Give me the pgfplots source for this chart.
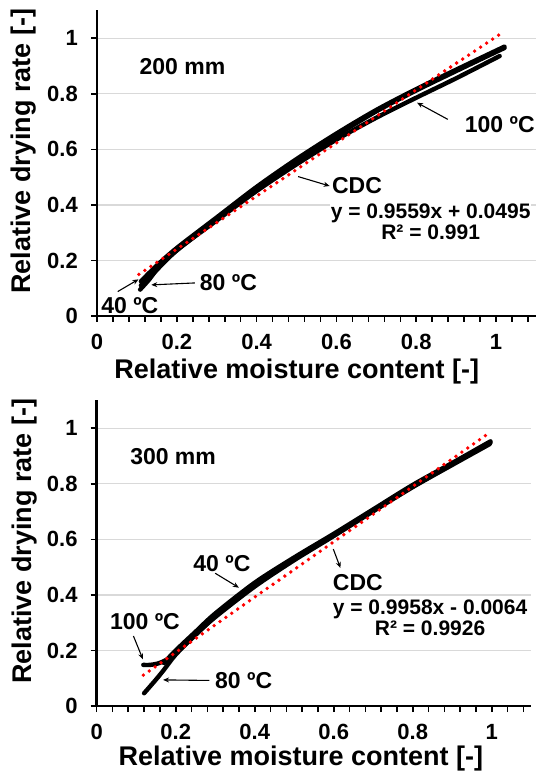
\documentclass[border=0pt]{standalone}
\usepackage{fontspec}
\setmainfont{Liberation Sans}
\usepackage{pgfplots}
\usepackage{pgfplotstable}
\pgfplotsset{compat=1.18}
\usetikzlibrary{arrows.meta}

\newcommand{\tickfont}{\bfseries\fontsize{22}{24}\selectfont}
\newcommand{\labfont}{\bfseries\fontsize{27}{30}\selectfont}
\newcommand{\annfont}{\bfseries\fontsize{23}{26}\selectfont}
\newcommand{\eqfont}{\bfseries\fontsize{21}{21}\selectfont}

\tikzset{
  arr/.style={black, line width=1.1pt, -{Stealth[length=6pt,width=5pt]}},
  xtl/.style={anchor=north, inner sep=0pt, font=\tickfont, yshift=-18pt},
  ytl/.style={anchor=east, inner sep=0pt, font=\tickfont, xshift=-19pt},
}

\pgfplotsset{
  drycurve/.style={
    scale only axis, height=305.5pt,
    xmin=0, xmax=1.1, ymin=0, ymax=1.1,
    clip=false,
    axis lines=left,
    axis line style={line width=2.5pt, -},
    xtick={0,0.2,0.4,0.6,0.8,1},
    ytick={0,0.2,0.4,0.6,0.8,1},
    xticklabels={}, yticklabels={},
    minor xtick={0.04,0.08,0.12,0.16,0.24,0.28,0.32,0.36,0.44,0.48,0.52,0.56,0.64,0.68,0.72,0.76,0.84,0.88,0.92,0.96,1.04,1.08},
    tick align=outside,
    major tick length=6pt, minor tick length=6pt,
    every tick/.style={black, line width=1.6pt},
    ymajorgrids, grid style={black!15, line width=1.3pt},
    every axis x label/.style={at={(axis description cs:0.455,-0.183)}, anchor=center, inner sep=0pt, font=\labfont},
    every axis y label/.style={at={(axis description cs:-0.167,0.54)}, anchor=center, inner sep=0pt, rotate=90, font=\labfont},
    xlabel={Relative moisture content [-]},
    ylabel={Relative drying rate [-]},
  },
  blk/.style={black, line width=4.4pt, line cap=round, smooth},
  cdc/.style={red, line width=3.8pt, line cap=round, dash pattern=on 0pt off 7.2pt},
}

\newcommand{\ticklabels}{%
  \node[xtl] at (axis cs:0,0) {0};
  \node[xtl] at (axis cs:0.2,0) {0.2};
  \node[xtl] at (axis cs:0.4,0) {0.4};
  \node[xtl] at (axis cs:0.6,0) {0.6};
  \node[xtl] at (axis cs:0.8,0) {0.8};
  \node[xtl] at (axis cs:1,0) {1};
  \node[ytl] at (axis cs:0,0) {0};
  \node[ytl] at (axis cs:0,0.2) {0.2};
  \node[ytl] at (axis cs:0,0.4) {0.4};
  \node[ytl] at (axis cs:0,0.6) {0.6};
  \node[ytl] at (axis cs:0,0.8) {0.8};
  \node[ytl] at (axis cs:0,1) {1};
}

% 200 mm
\pgfplotstableread{
x y
0.110 0.125
0.150 0.182
0.200 0.245
0.300 0.355
0.400 0.465
0.500 0.565
0.600 0.657
0.700 0.742
0.800 0.817
0.900 0.887
1.021 0.970
}\topforty
\pgfplotstableread{
x y
0.108 0.095
0.130 0.130
0.150 0.166
0.200 0.236
0.300 0.348
0.400 0.458
0.500 0.557
0.600 0.650
0.700 0.737
0.800 0.812
0.900 0.882
1.021 0.965
}\topeighty
\pgfplotstableread{
x y
0.110 0.110
0.150 0.170
0.200 0.237
0.300 0.344
0.400 0.450
0.500 0.546
0.600 0.635
0.700 0.714
0.800 0.786
0.900 0.856
1.009 0.936
}\tophundred
\pgfplotstableread{
x y
0.105 0.1499
1.014 1.0188
}\topcdc

% 300 mm
\pgfplotstableread{
x y
0.170 0.155
0.200 0.200
0.250 0.267
0.300 0.333
0.400 0.444
0.500 0.535
0.600 0.620
0.700 0.708
0.800 0.796
0.900 0.875
0.997 0.953
}\botforty
\pgfplotstableread{
x y
0.120 0.046
0.150 0.095
0.170 0.130
0.200 0.185
0.250 0.256
0.300 0.320
0.400 0.430
0.500 0.525
0.600 0.612
0.700 0.701
0.800 0.788
0.900 0.868
0.995 0.943
}\boteighty
\pgfplotstableread{
x y
0.118 0.148
0.135 0.148
0.155 0.153
0.175 0.165
0.200 0.190
0.250 0.256
0.300 0.322
0.400 0.433
0.500 0.528
0.600 0.614
0.700 0.703
0.800 0.790
0.900 0.870
0.997 0.948
}\bothundred
\pgfplotstableread{
x y
0.118 0.1111
0.985 0.9745
}\botcdc

\begin{document}
\begin{tikzpicture}[x=1pt,y=1pt]
\path[use as bounding box] (0,0) rectangle (536,773);

\begin{axis}[drycurve, width=439pt, at={(97pt,457pt)}, anchor=south west]
\addplot[blk] table {\topforty};
\addplot[blk] table {\topeighty};
\addplot[blk] table {\tophundred};
\addplot[cdc] table {\topcdc};
\ticklabels
\node[anchor=west, font=\annfont] at (axis cs:0.098,0.898) {200 mm};
\node[anchor=west, font=\annfont] at (axis cs:0.913,0.688) {100 ºC};
\draw[arr] (axis cs:0.879,0.708) -- (axis cs:0.802,0.768);
\node[anchor=west, font=\annfont, inner sep=1pt] at (axis cs:0.586,0.468) {CDC};
\draw[arr] (axis cs:0.504,0.502) -- (axis cs:0.583,0.468);
\node[fill=white, align=center, inner sep=1pt, font=\eqfont] at (axis cs:0.836,0.34) {y = 0.9559x + 0.0495\\R² = 0.991};
\node[anchor=west, font=\annfont] at (axis cs:0.249,0.119) {80 ºC};
\draw[arr] (axis cs:0.245,0.119) -- (axis cs:0.136,0.112);
\node[anchor=west, font=\annfont, inner sep=1pt] at (axis cs:0.008,0.036) {40 ºC};
\draw[arr] (axis cs:0.052,0.088) -- (axis cs:0.104,0.132);
\end{axis}

\begin{axis}[drycurve, width=434.5pt, at={(96.7pt,67pt)}, anchor=south west,
  every axis x label/.style={at={(axis description cs:0.47,-0.172)}, anchor=center, inner sep=0pt, font=\labfont}]
\addplot[blk] table {\botforty};
\addplot[blk] table {\boteighty};
\addplot[blk] table {\bothundred};
\addplot[cdc] table {\botcdc};
\ticklabels
\node[anchor=west, font=\annfont] at (axis cs:0.076,0.898) {300 mm};
\node[anchor=west, font=\annfont] at (axis cs:0.236,0.514) {40 ºC};
\draw[arr] (axis cs:0.300,0.478) -- (axis cs:0.360,0.426);
\node[anchor=west, font=\annfont] at (axis cs:0.025,0.304) {100 ºC};
\draw[arr] (axis cs:0.093,0.252) -- (axis cs:0.117,0.168);
\node[anchor=west, font=\annfont] at (axis cs:0.291,0.090) {80 ºC};
\draw[arr] (axis cs:0.285,0.092) -- (axis cs:0.168,0.094);
\node[anchor=west, font=\annfont, inner sep=1pt] at (axis cs:0.595,0.444) {CDC};
\draw[arr] (axis cs:0.599,0.565) -- (axis cs:0.617,0.497);
\node[fill=white, align=center, inner sep=1pt, font=\eqfont] at (axis cs:0.844,0.317) {y = 0.9958x - 0.0064\\R² = 0.9926};
\end{axis}
\end{tikzpicture}
\end{document}
